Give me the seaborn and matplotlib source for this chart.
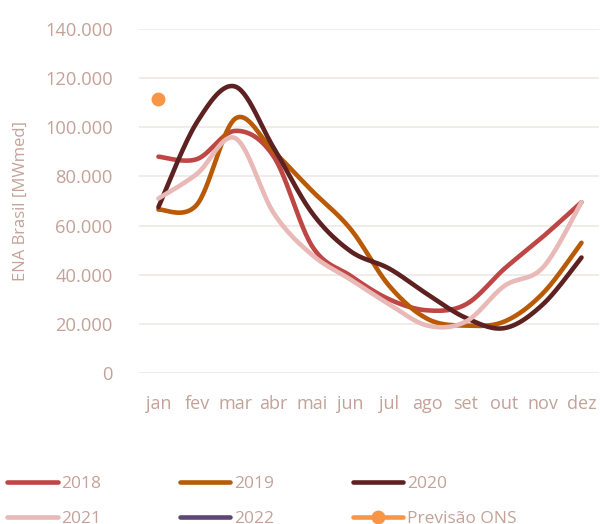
import numpy as np
import pandas as pd
import matplotlib
matplotlib.use("Agg")
import matplotlib.pyplot as plt
import seaborn as sns

months = ['jan', 'fev', 'mar', 'abr', 'mai', 'jun', 'jul', 'ago', 'set', 'out', 'nov', 'dez']

ena_2018 = [88000, 87000, 98500, 88000, 51500, 39500, 30000, 25500, 28000, 42500, 55500, 69500]
ena_2019 = [66500, 68500, 103500, 90000, 74000, 58500, 35500, 22000, 19300, 21000, 32500, 53000]
ena_2020 = [67500, 102000, 116500, 91500, 65000, 49500, 42500, 32000, 22400, 18300, 28000, 47000]
ena_2021 = [71000, 81000, 95500, 65000, 48000, 38000, 28000, 19300, 21000, 35500, 43000, 69500]
ena_2022 = []
previsao_ons = [111500]

colors = {
    '2018': '#BE4745',
    '2019': '#B85A06',
    '2020': '#5E2121',
    '2021': '#E8B9B7',
    '2022': '#5E4675',
    'Previsão ONS': '#F79646',
}
text_color = '#C4A298'
grid_color = '#F0E9E7'


def smooth(values, n=30):
    # excel-like smoothed line (bezier through every point)
    y = np.asarray(values, dtype=float)
    x = np.arange(len(y), dtype=float)
    pts = np.column_stack([x, y])
    out = []
    for i in range(len(pts) - 1):
        p0 = pts[i - 1] if i > 0 else pts[i]
        p1 = pts[i]
        p2 = pts[i + 1]
        p3 = pts[i + 2] if i + 2 < len(pts) else pts[i + 1]
        c1 = p1 + (p2 - p0) / 6
        c2 = p2 - (p3 - p1) / 6
        t = np.linspace(0, 1, n, endpoint=False)[:, None]
        seg = ((1 - t) ** 3) * p1 + 3 * ((1 - t) ** 2) * t * c1 + 3 * (1 - t) * t ** 2 * c2 + t ** 3 * p2
        out.append(seg)
    out.append(pts[-1:])
    out = np.vstack(out)
    return out[:, 0], out[:, 1]


sns.set_theme(style="white")
plt.rcParams['font.family'] = ['Open Sans', 'DejaVu Sans']

fig = plt.figure(figsize=(6, 5.24), dpi=100)
ax = fig.add_axes([0.232, 0.288, 0.766, 0.657])

series = {'2018': ena_2018, '2019': ena_2019, '2020': ena_2020, '2021': ena_2021}
for name, vals in series.items():
    sx, sy = smooth(vals)
    sns.lineplot(x=sx, y=sy, color=colors[name], linewidth=3.3, label=name,
                 sort=False, ax=ax, solid_capstyle='round')

ax.plot(ena_2022, ena_2022, color=colors['2022'], linewidth=3.3, label='2022',
        solid_capstyle='round')
sns.lineplot(x=[0], y=previsao_ons, color=colors['Previsão ONS'], marker='o',
             markersize=10, markeredgewidth=0, linewidth=3.3, label='Previsão ONS', ax=ax)

ax.set_xlim(-0.5, 11.45)
ax.set_ylim(0, 140000)
ax.set_yticks(np.arange(0, 140001, 20000))
ax.set_yticklabels(['0' if v == 0 else f'{v // 1000}.000' for v in range(0, 140001, 20000)])
ax.set_xticks(range(len(months)))
ax.set_xticklabels(months)
ax.yaxis.grid(True, color=grid_color, linewidth=1.3)
ax.set_axisbelow(True)
for s in ax.spines.values():
    s.set_visible(False)
ax.tick_params(axis='y', length=0, pad=19, labelsize=13.2, labelcolor=text_color)
ax.tick_params(axis='x', length=0, pad=16, labelsize=13, labelcolor=text_color)
ax.set_ylabel('ENA Brasil [MWmed]', color=text_color, fontsize=12, labelpad=12)
ax.set_xlabel('')

handles, labels = ax.get_legend_handles_labels()
ax.get_legend().remove()
# legend fills by column, so reorder to read row by row
order = [0, 3, 1, 4, 2, 5]
fig.legend([handles[i] for i in order], [labels[i] for i in order],
           loc='upper left', bbox_to_anchor=(0.012, 1 - 476 / 524),
           ncol=3, frameon=False, fontsize=12.5, labelcolor=text_color,
           handlelength=2.9, handletextpad=0.2, columnspacing=4.55,
           labelspacing=1.1, borderpad=0, borderaxespad=0)

fig.savefig('out.png', dpi=100)
